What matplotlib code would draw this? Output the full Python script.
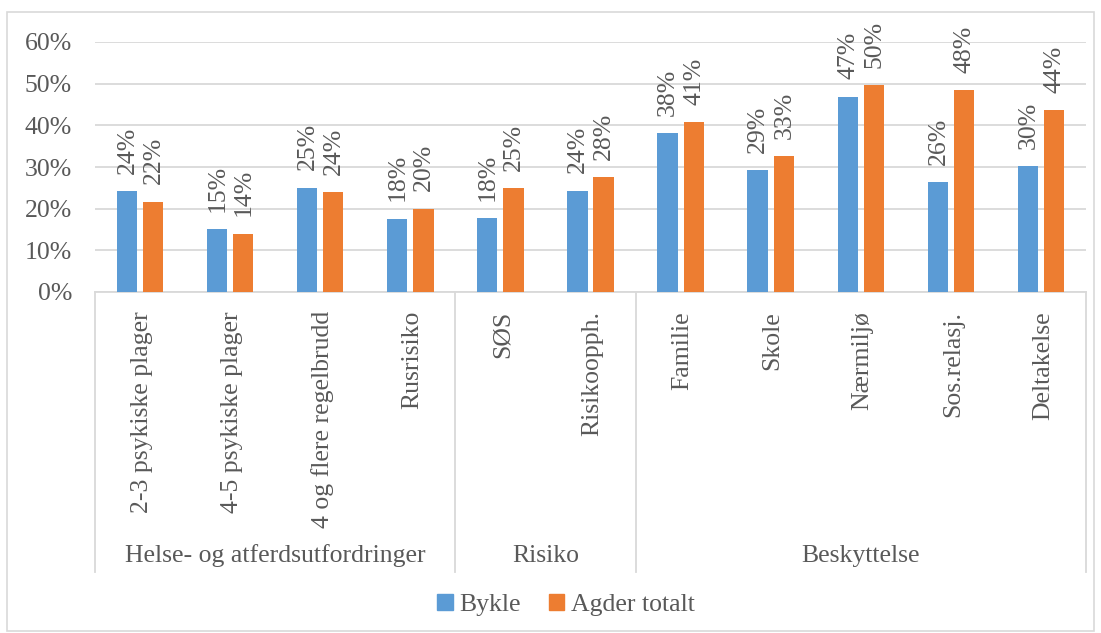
import matplotlib
matplotlib.use("Agg")
import matplotlib.pyplot as plt
from matplotlib.lines import Line2D
from matplotlib.patches import Rectangle, Patch

categories = ["2-3 psykiske plager", "4-5 psykiske plager", "4 og flere regelbrudd", "Rusrisiko",
              "SØS", "Risikoopph.",
              "Familie", "Skole", "Nærmiljø", "Sos.relasj.", "Deltakelse"]
groups = ["Helse- og atferdsutfordringer", "Risiko", "Beskyttelse"]
group_sizes = [4, 2, 5]
bykle = [24.2, 15.1, 25.0, 17.6, 17.7, 24.3, 38.1, 29.3, 46.9, 26.3, 30.2]
agder = [21.7, 14.0, 23.9, 20.0, 24.9, 27.6, 40.7, 32.6, 49.6, 48.4, 43.7]
yticks = [0, 10, 20, 30, 40, 50, 60]
series_names = ["Bykle", "Agder totalt"]

BLUE = "#5B9BD5"
ORANGE = "#ED7D31"
TXT = "#595959"
GRID = "#D9D9D9"
FONT = "Liberation Serif"
FS = 18.5

W, H = 1101, 633
fig = plt.figure(figsize=(W / 100, H / 100), dpi=100)
x0, x1 = 95, 1086
y0, y1 = 292, 42
ax = fig.add_axes([x0 / W, 1 - y0 / H, (x1 - x0) / W, (y0 - y1) / H])

n = len(categories)
xs = list(range(n))
bw = 0.225
off = 0.145
ax.bar([x - off for x in xs], bykle, width=bw, color=BLUE, zorder=3)
ax.bar([x + off for x in xs], agder, width=bw, color=ORANGE, zorder=3)

ax.set_xlim(-0.5, n - 0.5)
ax.set_ylim(0, 60)
ax.set_yticks(yticks)
ax.set_yticklabels([f"{v}%" for v in yticks], fontsize=FS, color=TXT, family=FONT)
ax.tick_params(axis="y", length=0, pad=16.5)
ax.tick_params(axis="x", length=0, labelbottom=False)
for s in ["top", "right", "left"]:
    ax.spines[s].set_visible(False)
ax.spines["bottom"].set_color(GRID)
ax.spines["bottom"].set_linewidth(1.3)
ax.grid(axis="y", color=GRID, linewidth=1.3, zorder=0)
ax.set_axisbelow(True)

# data labels
for vals, sign in ((bykle, -1), (agder, 1)):
    for x, v in zip(xs, vals):
        ax.annotate(f"{round(v):.0f}%", xy=(x + sign * off, v), xytext=(0.5, 12.5),
                    textcoords="offset points", rotation=90, ha="center", va="bottom",
                    fontsize=FS, color=TXT, family=FONT, annotation_clip=False)

def fy(py):
    return 1 - py / H
def fx(px):
    return px / W

# category labels
for x, c in zip(xs, categories):
    px = x0 + (x + 0.5) * (x1 - x0) / n
    fig.text(fx(px + 2), fy(311), c, rotation=90, ha="center", va="top",
             fontsize=FS, color=TXT, family=FONT)

# group labels and separators
start = 0
bounds = [x0]
for g, sz in zip(groups, group_sizes):
    gx0 = x0 + start * (x1 - x0) / n
    gx1 = x0 + (start + sz) * (x1 - x0) / n
    fig.text(fx((gx0 + gx1) / 2), fy(556), g, ha="center", va="center",
             fontsize=FS, color=TXT, family=FONT)
    bounds.append(gx1)
    start += sz
for b in bounds:
    fig.add_artist(Line2D([fx(b), fx(b)], [fy(292), fy(572)], color=GRID, linewidth=1.3))

# outer border
fig.add_artist(Rectangle((fx(7), fy(631)), fx(1094) - fx(7), fy(12) - fy(631),
                         fill=False, edgecolor=GRID, linewidth=1.2))

# legend
handles = [Patch(color=BLUE), Patch(color=ORANGE)]
leg = fig.legend(handles, series_names, loc="center", bbox_to_anchor=(fx(566), fy(605)),
                 ncol=2, frameon=False, handlelength=0.6, handleheight=0.6,
                 handletextpad=0.25, columnspacing=1.1,
                 prop={"family": FONT, "size": FS})
for t in leg.get_texts():
    t.set_color(TXT)

fig.savefig("out.png", dpi=100)
